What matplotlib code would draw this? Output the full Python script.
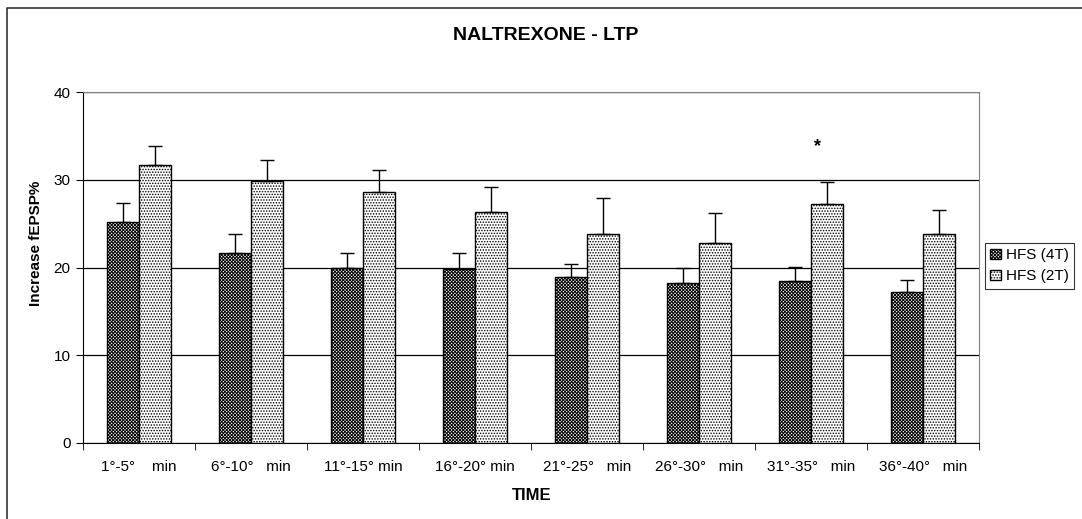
import matplotlib
matplotlib.use("Agg")
import matplotlib.pyplot as plt
from matplotlib.lines import Line2D
import numpy as np

plt.rcParams['font.family'] = ['Liberation Sans', 'DejaVu Sans']
plt.rcParams['hatch.linewidth'] = 0.7

categories = ["1°-5°    min", "6°-10°   min", "11°-15° min", "16°-20° min",
              "21°-25°   min", "26°-30°   min", "31°-35°   min", "36°-40°   min"]
hfs4 = [25.2, 21.7, 19.9, 19.8, 18.9, 18.2, 18.5, 17.2]
hfs4_err = [2.1, 2.1, 1.8, 1.9, 1.5, 1.8, 1.6, 1.4]
hfs2 = [31.7, 29.9, 28.6, 26.3, 23.8, 22.8, 27.2, 23.8]
hfs2_err = [2.1, 2.4, 2.5, 2.9, 4.1, 3.4, 2.6, 2.8]
series_names = ["HFS (4T)", "HFS (2T)"]
star_group = 6
star_y = 33.8

W, H = 1082, 519
fig = plt.figure(figsize=(W / 100, H / 100), dpi=100)
fig.patch.set_facecolor('white')
# outer chart border (only left and top visible in the crop)
fig.add_artist(Line2D([7 / W, 7 / W, 1.0], [0.0, 1 - 8 / H, 1 - 8 / H],
                      transform=fig.transFigure, color='#333333', linewidth=1.2))

ax = fig.add_axes([83 / W, 1 - 443 / H, (979 - 83) / W, (443 - 92) / H])
x = np.arange(len(categories))
w = 0.29
b1 = ax.bar(x - w/2, hfs4, w, color='white', edgecolor='black', hatch='xxxxxxxxxx',
            linewidth=1.0, zorder=3, label=series_names[0])
b2 = ax.bar(x + w/2, hfs2, w, color='white', edgecolor='black', hatch='......',
            linewidth=1.0, zorder=3, label=series_names[1])
ax.errorbar(x - w/2, hfs4, yerr=[np.zeros(len(hfs4)), hfs4_err], fmt='none',
            ecolor='black', elinewidth=1.0, capsize=5, capthick=1.0, zorder=4)
ax.errorbar(x + w/2, hfs2, yerr=[np.zeros(len(hfs2)), hfs2_err], fmt='none',
            ecolor='black', elinewidth=1.0, capsize=5, capthick=1.0, zorder=4)
ax.text(x[star_group] + w/2 - 0.09, star_y, '*', ha='center', va='center',
        fontsize=13, fontweight='bold')

ax.set_xlim(-0.5, len(categories) - 0.5)
ax.set_ylim(0, 40)
ax.set_yticks([0, 10, 20, 30, 40])
ax.yaxis.grid(True, color='black', linewidth=0.9, zorder=0)
ax.set_axisbelow(True)
ax.set_xticks(x)
ax.set_xticklabels(categories, fontsize=11)
ax.tick_params(axis='x', length=0, pad=12)
ax.set_xticks(np.arange(-0.5, len(categories)), minor=True)
ax.tick_params(axis='x', which='minor', length=5, direction='out')
ax.tick_params(axis='y', labelsize=11, length=5, direction='out', pad=4)
for s in ['top', 'right']:
    ax.spines[s].set_color('#808080')
ax.spines['left'].set_color('black')
ax.spines['bottom'].set_color('black')

fig.text(546 / W, 1 - 36 / H, 'NALTREXONE - LTP', fontsize=14, fontweight='bold',
         ha='center', va='center')
fig.text(532 / W, 1 - 495 / H, 'TIME', fontsize=12, fontweight='bold',
         ha='center', va='center')
fig.text(36 / W, 1 - 243 / H, 'Increase fEPSP%', fontsize=11, fontweight='bold',
         ha='center', va='center', rotation=90)

leg = fig.legend(handles=[b1, b2], loc='upper left',
                 bbox_to_anchor=(985 / W, 1 - 243 / H),
                 fontsize=11, frameon=True, fancybox=False, edgecolor='black',
                 handlelength=0.7, handleheight=0.7, handletextpad=0.3,
                 borderpad=0.35, labelspacing=0.45, borderaxespad=0)
leg.get_frame().set_linewidth(0.8)

fig.savefig('out.png', dpi=100)
